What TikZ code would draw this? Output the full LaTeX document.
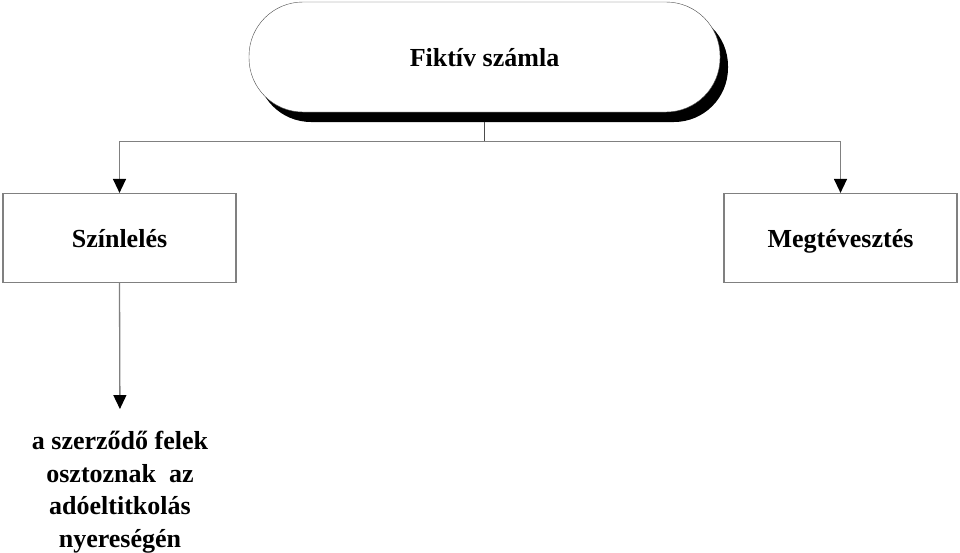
\documentclass[tikz,border=0pt]{standalone}
\usepackage{fontspec}
\setmainfont{Liberation Serif}
\usepackage{tikz}
\usetikzlibrary{
    arrows.meta,
    positioning,
    shadows
}

\begin{document}
\begin{tikzpicture}[
    x=1pt, y=1pt,
    title/.style={draw=black!70, fill=white, rounded corners=54pt, minimum width=471pt, minimum height=110pt,
        font=\fontsize{26}{30}\selectfont\bfseries, text height=22pt, text depth=4pt,
        drop shadow={shadow xshift=8pt, shadow yshift=-10pt, fill=black, opacity=1}},
    branch/.style={draw=black!50, line width=1.2pt, fill=white, minimum width=233pt, minimum height=89pt,
        font=\fontsize{26}{30}\selectfont\bfseries, text height=22pt, text depth=4pt},
    note/.style={align=center, font=\fontsize{26}{32.5}\selectfont\bfseries, inner sep=0pt},
    link/.style={draw=black!50, line width=1.3pt},
    arrowlink/.style={link, -{Triangle[width=13pt,length=14pt,black]}}
]
\useasboundingbox (0,0) rectangle (960,-552);

% Main node
\node[title] (fiktiv) at (484.5,-57) {Fiktív számla};

% Second level
\node[branch] (szinlel) at (119.5,-238) {Színlelés};
\node[branch] (megtev) at (840.5,-238) {Megtévesztés};

% Result
\node[note] (nyereseg) at (120,-492) {a szerződő felek\\osztoznak\ \ az\\adóeltitkolás\\nyereségén};

% Connections
\draw[black!70, line width=0.8pt] ([yshift=-10pt]fiktiv.south) -- ++(0,-19) coordinate (split);
\draw[arrowlink] (split) -| (szinlel.north);
\draw[arrowlink] (split) -| (megtev.north);
\draw[arrowlink, shorten >=22pt] (szinlel.south) -- (nyereseg.north);

\end{tikzpicture}
\end{document}
